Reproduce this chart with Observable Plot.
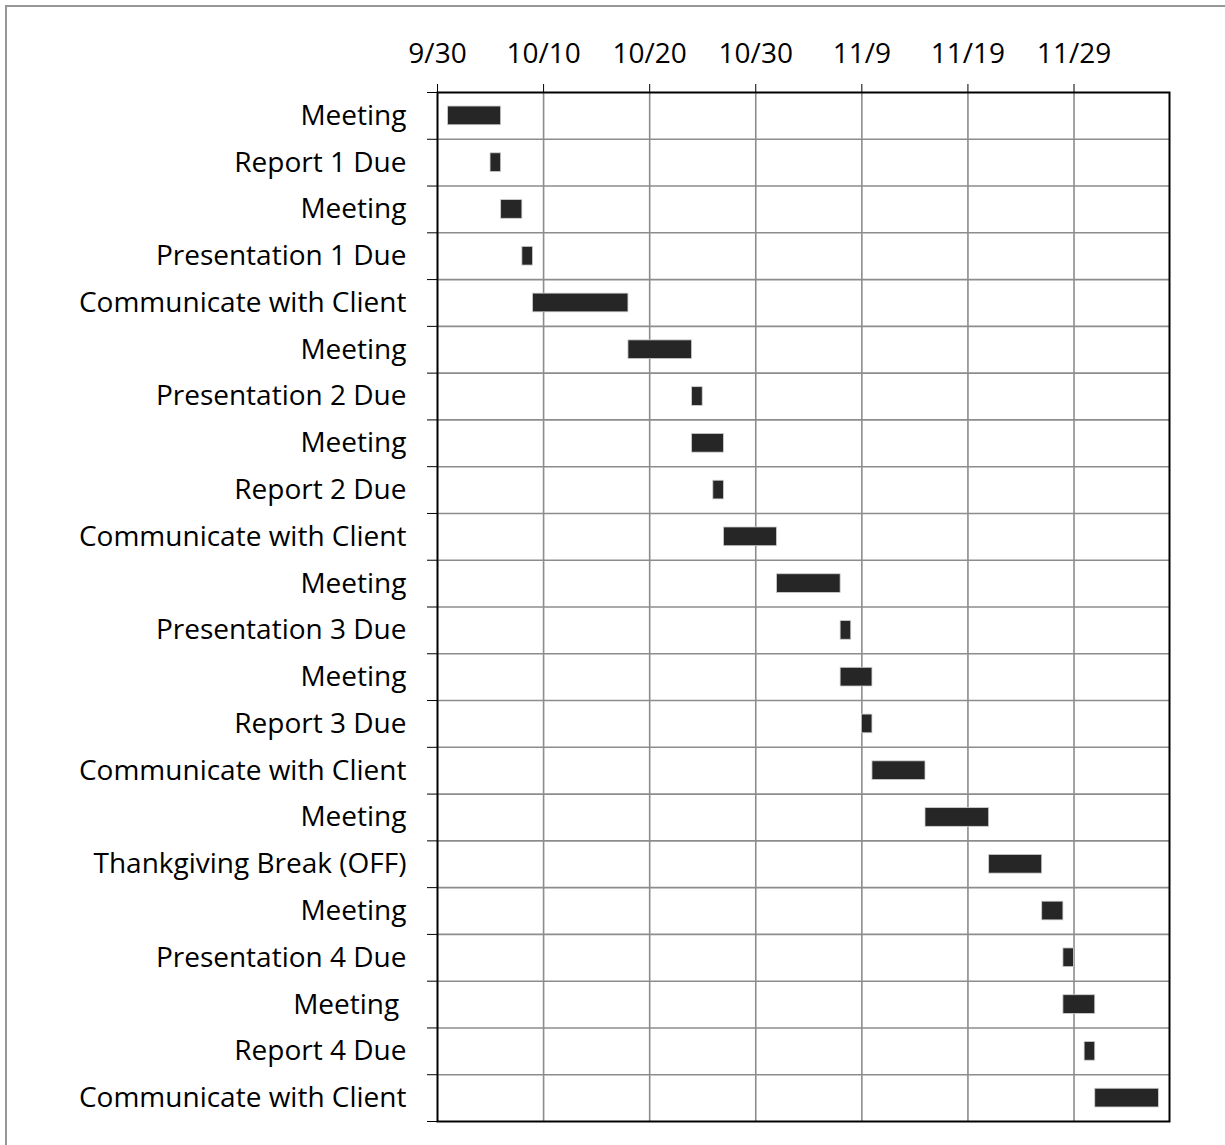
<!DOCTYPE html>
<html>
<head>
<meta charset="utf-8">
<script src="https://cdn.jsdelivr.net/npm/d3@7"></script>
<script src="https://cdn.jsdelivr.net/npm/@observablehq/plot@0.6"></script>
<style>
  html, body { margin: 0; padding: 0; background: #fff; overflow: hidden; width: 1225px; height: 1145px; }
  #frame { position: absolute; left: 5px; top: 5px; width: 1400px; height: 1400px;
           border-left: 2px solid #979797; border-top: 2px solid #979797; }
  #chart { position: absolute; left: 0; top: 0; }
  #chart svg { background: transparent !important; }
  #chart svg text { font-family: "Open Sans", sans-serif !important; font-size: 28px !important; fill: #000; white-space: pre; }
  #chart svg g[aria-label$="axis"] line, #chart svg .tick line { stroke: #000; stroke-width: 1.8px; }
</style>
</head>
<body>
<div id="frame"></div>
<div id="chart"></div>
<script>
// Tasks in display order, top to bottom
const tasks = [
  "Meeting", "Report 1 Due", "Meeting", "Presentation 1 Due", "Communicate with Client",
  "Meeting", "Presentation 2 Due", "Meeting", "Report 2 Due", "Communicate with Client",
  "Meeting", "Presentation 3 Due", "Meeting", "Report 3 Due", "Communicate with Client",
  "Meeting", "Thankgiving Break (OFF)", "Meeting", "Presentation 4 Due", "Meeting ",
  "Report 4 Due", "Communicate with Client"
];
// Start dates
const starts = [
  "2018-10-01", "2018-10-05", "2018-10-06", "2018-10-08", "2018-10-09",
  "2018-10-18", "2018-10-24", "2018-10-24", "2018-10-26", "2018-10-27",
  "2018-11-01", "2018-11-07", "2018-11-07", "2018-11-09", "2018-11-10",
  "2018-11-15", "2018-11-21", "2018-11-26", "2018-11-28", "2018-11-28",
  "2018-11-30", "2018-12-01"
];
// Durations in days
const durations = [5, 1, 2, 1, 9, 6, 1, 3, 1, 5, 6, 1, 3, 1, 5, 6, 5, 2, 1, 3, 1, 6];
// Axis: range and tick labels
const axisMin = "2018-09-30";
const axisMax = "2018-12-08";
const tickDates = ["2018-09-30", "2018-10-10", "2018-10-20", "2018-10-30", "2018-11-09", "2018-11-19", "2018-11-29"];

const parse = d3.utcParse("%Y-%m-%d");
const rows = tasks.map((t, i) => {
  const s = parse(starts[i]);
  return {task: t, row: i, start: s, end: d3.utcDay.offset(s, durations[i])};
});
const xMin = parse(axisMin), xMax = parse(axisMax);
const ticks = tickDates.map(parse);
const n = tasks.length;
const bounds = d3.range(0, n + 1);
const inner = d3.range(1, n);

const chart = Plot.plot({
  width: 1225,
  height: 1145,
  marginLeft: 437,
  marginRight: 56,
  marginTop: 92,
  marginBottom: 24,
  style: {background: "transparent", color: "#000", fontFamily: "Open Sans", fontSize: "28px"},
  x: {
    type: "utc",
    domain: [xMin, xMax],
    axis: "top",
    ticks: ticks,
    tickFormat: d3.utcFormat("%-m/%-d"),
    tickSize: 9,
    tickPadding: 21,
    label: null
  },
  y: {
    type: "linear",
    domain: [n, 0],
    ticks: bounds,
    tickFormat: () => "",
    tickSize: 10,
    tickPadding: 0,
    label: null
  },
  marks: [
    Plot.ruleX(ticks.slice(1), {stroke: "#8c8c8c", strokeWidth: 1.6}),
    Plot.ruleY(inner, {stroke: "#8c8c8c", strokeWidth: 1.6}),
    Plot.rect(rows, {
      x1: "start", x2: "end",
      y1: d => d.row + 0.3, y2: d => d.row + 0.7,
      fill: "#262626", stroke: "#cfcfcf", strokeWidth: 0.8
    }),
    Plot.frame({stroke: "#000", strokeWidth: 2}),
    Plot.text(rows, {
      x: () => xMin, y: d => d.row + 0.5, text: "task",
      textAnchor: "end", dx: -31, fill: "#000"
    })
  ]
});
document.getElementById("chart").appendChild(chart);
</script>
</body>
</html>
